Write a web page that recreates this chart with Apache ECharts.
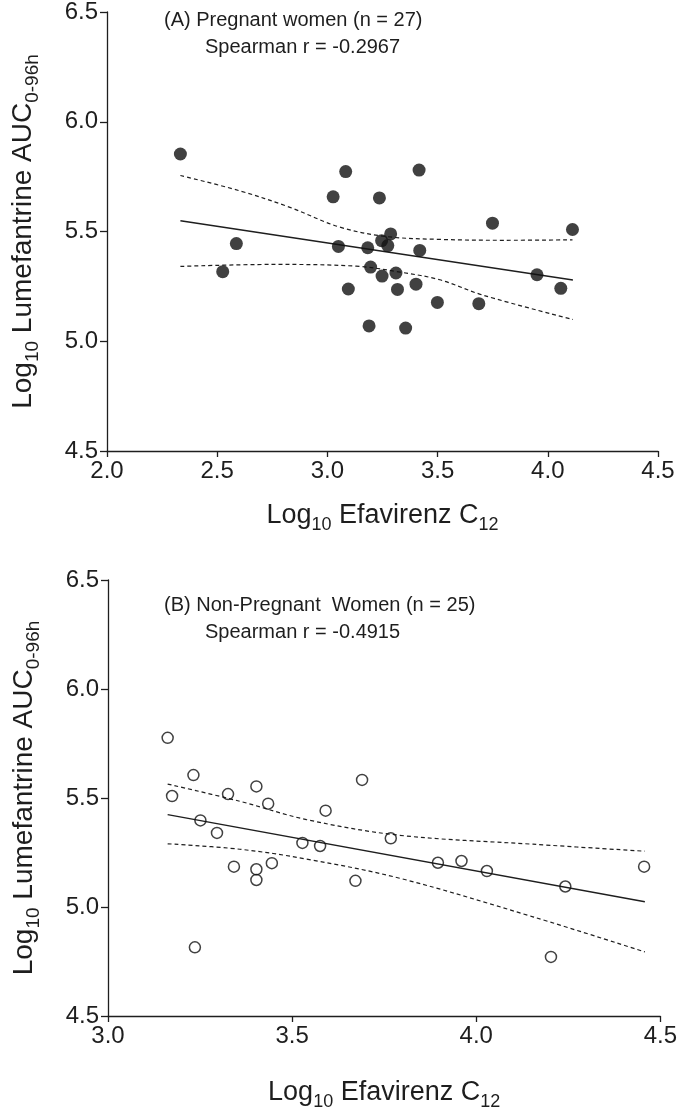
<!DOCTYPE html>
<html><head><meta charset="utf-8">
<script src="https://cdn.jsdelivr.net/npm/echarts@6/dist/echarts.min.js"></script>
<style>html,body{margin:0;padding:0;background:#fff}#c{width:680px;height:1112px}</style>
</head><body><div id="c"></div>
<script>
// Panel A: pregnant women
const pregnantX = [2.333,3.083,3.416,3.026,3.236,2.587,3.287,3.246,3.274,3.050,3.183,3.419,2.525,3.196,3.248,3.311,3.095,3.318,3.402,3.499,3.189,3.355,3.749,4.112,3.951,4.059,3.687];
const pregnantY = [5.853,5.773,5.780,5.658,5.653,5.445,5.489,5.458,5.436,5.432,5.426,5.414,5.317,5.338,5.297,5.311,5.238,5.236,5.260,5.177,5.070,5.060,5.538,5.509,5.303,5.241,5.171];
const fitAX = [2.333,4.114];
const fitAY = [5.549,5.279];
const upperAX = [2.333,2.6,2.83,3.056,3.268,3.51,3.8,4.112];
const upperAY = [5.755,5.686,5.61,5.52,5.477,5.464,5.46,5.462];
const lowerAX = [2.333,2.75,3.13,3.33,3.51,3.706,4.114];
const lowerAY = [5.341,5.35,5.342,5.315,5.28,5.21,5.099];
// Panel B: non-pregnant women
const nonPregX = [3.162,3.232,3.174,3.326,3.403,3.435,3.690,3.591,3.251,3.296,3.528,3.576,3.768,3.342,3.403,3.403,3.445,3.672,3.896,3.960,4.029,4.242,4.456,4.203,3.236];
const nonPregY = [5.776,5.605,5.509,5.518,5.553,5.474,5.583,5.442,5.397,5.340,5.294,5.280,5.315,5.185,5.173,5.124,5.201,5.120,5.203,5.211,5.165,5.094,5.185,4.771,4.815];
const fitBX = [3.162,4.458];
const fitBY = [5.424,5.024];
const upperBX = [3.162,3.358,3.539,3.792,4.154,4.458];
const upperBY = [5.564,5.485,5.401,5.329,5.288,5.256];
const lowerBX = [3.162,3.358,3.539,3.792,4.154,4.458];
const lowerBY = [5.290,5.265,5.220,5.132,4.955,4.794];
// Ticks
const yTicks = [4.5,5.0,5.5,6.0,6.5];
const xTicksA = [2.0,2.5,3.0,3.5,4.0,4.5];
const xTicksB = [3.0,3.5,4.0,4.5];

const FONT = '"Liberation Sans", Arial, sans-serif';
const INK = '#1e1e1e';
const zip = (a,b) => a.map((v,i)=>[v,b[i]]);
const step = t => t[1]-t[0];

const rich = {
  m: {fontSize: 27, fontFamily: FONT, color: INK, lineHeight: 32, verticalAlign: 'bottom'},
  s: {fontSize: 18, fontFamily: FONT, color: INK, lineHeight: 24, verticalAlign: 'bottom', padding: [0,0,-5,0]}
};
const richY = {
  m: {fontSize: 28, fontFamily: FONT, color: INK, lineHeight: 32, verticalAlign: 'bottom'},
  s: {fontSize: 19, fontFamily: FONT, color: INK, lineHeight: 24, verticalAlign: 'bottom', padding: [0,0,-5,0]}
};

function xAxis(idx, ticks, gap) {
  return {
    type: 'value', gridIndex: idx, min: ticks[0], max: ticks[ticks.length-1], interval: step(ticks),
    axisLine: {onZero: false, lineStyle: {color: INK, width: 1.3}},
    axisTick: {length: 6, lineStyle: {color: INK, width: 1.3}},
    axisLabel: {formatter: v => v.toFixed(1), fontSize: 24, fontFamily: FONT, color: INK, margin: 8},
    splitLine: {show: false},
    name: '{m|Log}{s|10}{m| Efavirenz C}{s|12}', nameLocation: 'middle', nameGap: gap,
    nameTextStyle: {rich: rich}
  };
}
function yAxis(idx) {
  return {
    type: 'value', gridIndex: idx, min: yTicks[0], max: yTicks[yTicks.length-1], interval: step(yTicks),
    axisLine: {onZero: false, lineStyle: {color: INK, width: 1.3}},
    axisTick: {length: 7, lineStyle: {color: INK, width: 1.3}},
    axisLabel: {formatter: v => v.toFixed(1), fontSize: 24, fontFamily: FONT, color: INK, margin: 9},
    splitLine: {show: false},
    name: '{m|Log}{s|10}{m| Lumefantrine AUC}{s|0-96h}', nameLocation: 'middle', nameGap: 70, nameRotate: 90,
    nameTextStyle: {rich: richY}
  };
}
function lineSeries(idx, xs, ys, dashed) {
  return {
    type: 'line', xAxisIndex: idx, yAxisIndex: idx, data: zip(xs, ys), showSymbol: false, symbol: 'none',
    smooth: dashed ? 0.35 : false, silent: true,
    lineStyle: {color: INK, width: dashed ? 1.2 : 1.4, type: dashed ? [4,3] : 'solid'}, z: 1
  };
}

const chart = echarts.init(document.getElementById('c'), null, {renderer: 'canvas'});
chart.setOption({
  animation: false,
  backgroundColor: '#fff',
  grid: [
    {left: 107, top: 11, width: 551, height: 440},
    {left: 108, top: 580, width: 553, height: 440}
  ],
  xAxis: [xAxis(0, xTicksA, 46), xAxis(1, xTicksB, 58)],
  yAxis: [yAxis(0), yAxis(1)],
  graphic: [
    {type: 'text', left: 164, top: 10, style: {text: '(A) Pregnant women (n = 27)', font: '20px ' + FONT, fill: INK}},
    {type: 'text', left: 205, top: 37, style: {text: 'Spearman r = -0.2967', font: '20px ' + FONT, fill: INK}},
    {type: 'text', left: 164, top: 595, style: {text: '(B) Non-Pregnant  Women (n = 25)', font: '20px ' + FONT, fill: INK}},
    {type: 'text', left: 205, top: 622, style: {text: 'Spearman r = -0.4915', font: '20px ' + FONT, fill: INK}}
  ],
  series: [
    lineSeries(0, fitAX, fitAY, false),
    lineSeries(0, upperAX, upperAY, true),
    lineSeries(0, lowerAX, lowerAY, true),
    {type: 'scatter', xAxisIndex: 0, yAxisIndex: 0, data: zip(pregnantX, pregnantY), symbol: 'circle', symbolSize: 13,
     itemStyle: {color: '#111'}, z: 3},
    lineSeries(1, fitBX, fitBY, false),
    lineSeries(1, upperBX, upperBY, true),
    lineSeries(1, lowerBX, lowerBY, true),
    {type: 'scatter', xAxisIndex: 1, yAxisIndex: 1, data: zip(nonPregX, nonPregY), symbol: 'circle', symbolSize: 11,
     itemStyle: {color: 'rgba(255,255,255,0)', borderColor: '#111', borderWidth: 1.5}, z: 3}
  ]
});
</script>
</body></html>
